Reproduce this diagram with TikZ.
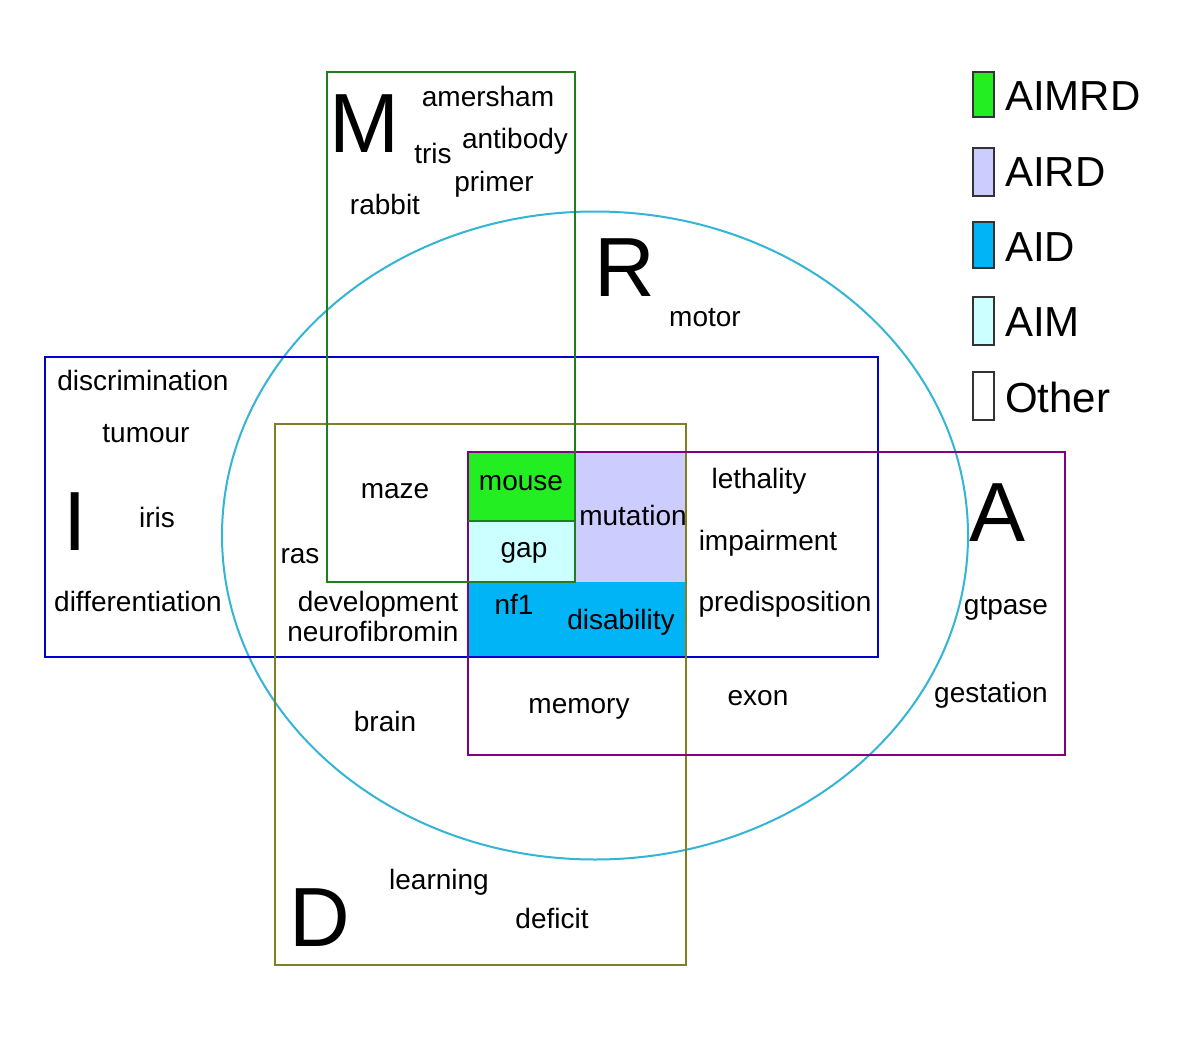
\documentclass[tikz,border=0pt]{standalone}
\usepackage{fontspec}
\setmainfont{Liberation Sans}
\definecolor{cM}{HTML}{1F7F1F}
\definecolor{cI}{HTML}{0000CC}
\definecolor{cD}{HTML}{808020}
\definecolor{cA}{HTML}{800080}
\definecolor{cR}{HTML}{33B5D5}
\definecolor{fAIMRD}{HTML}{22EE22}
\definecolor{fAIRD}{HTML}{CCCCFF}
\definecolor{fAID}{HTML}{00B4F5}
\definecolor{fAIM}{HTML}{CCFFFF}
\begin{document}
\begin{tikzpicture}[x=1pt,y=-1pt,
  word/.style={anchor=base,inner sep=0pt,font=\fontsize{28}{31}\selectfont},
  big/.style={anchor=base west,inner sep=0pt,font=\fontsize{84}{94}\selectfont},
  leg/.style={anchor=base west,inner sep=0pt,font=\fontsize{42}{47}\selectfont},
  setline/.style={line width=2pt},
  legbox/.style={draw=black!80,line width=1.5pt}]
\useasboundingbox (0,0) rectangle (1200,1044);
\fill[white] (0,0) rectangle (1200,1044);
% region fills
\fill[fAIMRD] (468,452) rectangle (575,521);
\fill[fAIM] (468,521) rectangle (575,582);
\fill[fAIRD] (575,452) rectangle (686,582);
\fill[fAID] (468,582) rectangle (686,657);
% sets
\draw[setline,cR] (595,535.5) ellipse [x radius=373, y radius=324];
\draw[setline,cI] (45,357) rectangle (878,657);
\draw[setline,cD] (275,424) rectangle (686,965);
\draw[setline,cA] (468,452) rectangle (1065,755);
\draw[setline,cM] (327,72) rectangle (575,582);
\draw[setline,cM] (468,521) -- (575,521);
% big letters
\node[big] (M) at (329,152) {M};
\node[big] (R) at (594,296) {R};
\node[big] (I) at (63,550) {I};
\node[big] (D) at (289,946) {D};
\node[big] (A) at (969,541) {A};
% words
\node[word] (amersham) at (488,106) {amersham};
\node[word] (antibody) at (515,148) {antibody};
\node[word] (tris) at (433,163) {tris};
\node[word] (primer) at (494,191) {primer};
\node[word] (rabbit) at (385,214) {rabbit};
\node[word] (motor) at (705,326) {motor};
\node[word] (discrimination) at (143,390) {discrimination};
\node[word] (tumour) at (146,442) {tumour};
\node[word] (iris) at (157,527) {iris};
\node[word] (differentiation) at (138,611) {differentiation};
\node[word] (maze) at (395,498) {maze};
\node[word] (ras) at (300,563) {ras};
\node[word] (development) at (378,611) {development};
\node[word] (neurofibromin) at (373,641) {neurofibromin};
\node[word] (mouse) at (521,490) {mouse};
\node[word] (gap) at (524,557) {gap};
\node[word] (mutation) at (633,525) {mutation};
\node[word] (nf1) at (514,614) {nf1};
\node[word] (disability) at (621,629) {disability};
\node[word] (lethality) at (759,488) {lethality};
\node[word] (impairment) at (768,550) {impairment};
\node[word] (predisposition) at (785,611) {predisposition};
\node[word] (gtpase) at (1006,614) {gtpase};
\node[word] (gestation) at (991,702) {gestation};
\node[word] (memory) at (579,713) {memory};
\node[word] (exon) at (758,705) {exon};
\node[word] (brain) at (385,731) {brain};
\node[word] (learning) at (439,889) {learning};
\node[word] (deficit) at (552,928) {deficit};
% legend
\draw[legbox,fill=fAIMRD] (973,72) rectangle (994,117);
\draw[legbox,fill=fAIRD] (973,148) rectangle (994,196);
\draw[legbox,fill=fAID] (973,222) rectangle (994,268);
\draw[legbox,fill=fAIM] (973,297) rectangle (994,345);
\draw[legbox,fill=white] (973,372) rectangle (994,420);
\node[leg] (lAIMRD) at (1005,110) {AIMRD};
\node[leg] (lAIRD) at (1005,186) {AIRD};
\node[leg] (lAID) at (1005,261) {AID};
\node[leg] (lAIM) at (1005,336) {AIM};
\node[leg] (lOther) at (1005,412) {Other};
\end{tikzpicture}
\end{document}
